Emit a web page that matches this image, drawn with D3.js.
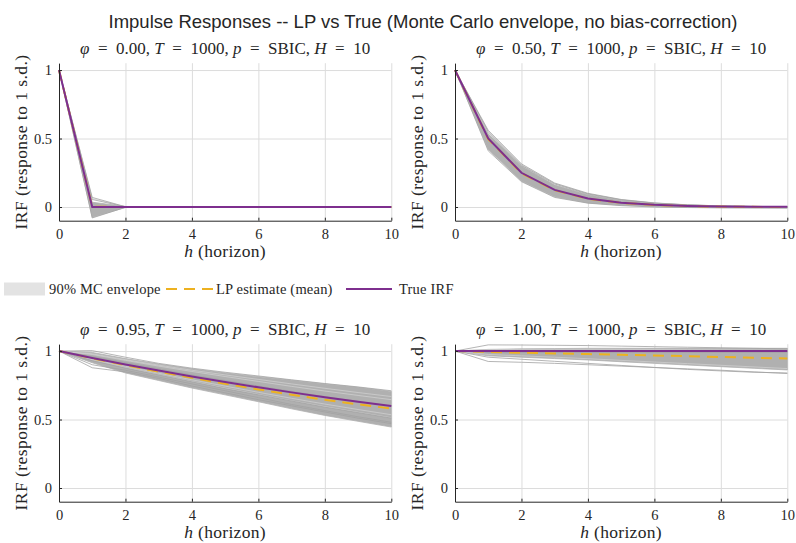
<!DOCTYPE html>
<html>
<head>
<meta charset="utf-8">
<script src="https://cdn.jsdelivr.net/npm/d3@7/dist/d3.min.js"></script>
<style>
  html, body { margin: 0; padding: 0; background: #fff; }
  svg { display: block; }
</style>
</head>
<body>
<svg id="fig" width="796" height="543"></svg>
<script>
// ---- data -------------------------------------------------------------
const horizons = [0, 1, 2, 3, 4, 5, 6, 7, 8, 9, 10];
const xTicks = [0, 2, 4, 6, 8, 10];
const yTicks = [0, 0.5, 1];
const phiLabels = ["0.00", "0.50", "0.95", "1.00"];
const sampleSize = "1000";
const lagRule = "SBIC";
const maxHorizon = "10";

// phi = 0.00
const true00 = [1, 0, 0, 0, 0, 0, 0, 0, 0, 0, 0];
const lp00   = [1, 0.002, 0, 0, 0, 0, 0, 0, 0, 0, 0];
const lo00   = [1, -0.075, -0.004, -0.002, -0.002, -0.002, -0.002, -0.002, -0.002, -0.002, -0.002];
const hi00   = [1, 0.035, 0.004, 0.002, 0.002, 0.002, 0.002, 0.002, 0.002, 0.002, 0.002];
const paths00 = [
  [1, 0.07, 0.002, 0, 0, 0, 0, 0, 0, 0, 0],
  [1, 0.055, 0.001, 0, 0, 0, 0, 0, 0, 0, 0],
  [1, -0.08, -0.002, 0, 0, 0, 0, 0, 0, 0, 0]
];
const light00 = [
  [1, 0.062, 0.002, 0, 0, 0, 0, 0, 0, 0, 0]
];

// phi = 0.50
const true50 = [1, 0.5, 0.25, 0.125, 0.0625, 0.0313, 0.0156, 0.0078, 0.0039, 0.002, 0.001];
const lp50   = [1, 0.496, 0.247, 0.122, 0.06, 0.03, 0.015, 0.007, 0.003, 0.001, 0];
const lo50   = [1, 0.42, 0.19, 0.075, 0.03, 0.013, 0.003, -0.003, -0.005, -0.006, -0.007];
const hi50   = [1, 0.535, 0.3, 0.16, 0.09, 0.048, 0.026, 0.014, 0.007, 0.004, 0.003];
const paths50 = [
  [1, 0.56, 0.315, 0.175, 0.1, 0.055, 0.03, 0.016, 0.008, 0.004, 0.002],
  [1, 0.55, 0.305, 0.168, 0.095, 0.052, 0.028, 0.015, 0.008, 0.004, 0.002],
  [1, 0.41, 0.185, 0.07, 0.028, 0.01, 0.0, -0.004, -0.006, -0.007, -0.008]
];
const light50 = [
  [1, 0.545, 0.31, 0.171, 0.097, 0.053, 0.029, 0.015, 0.008, 0.004, 0.002]
];

// phi = 0.95
const true95 = [1, 0.95, 0.9025, 0.8574, 0.8145, 0.7738, 0.7351, 0.6983, 0.6634, 0.6302, 0.5987];
const lp95   = [1, 0.947, 0.897, 0.849, 0.804, 0.761, 0.72, 0.681, 0.644, 0.611, 0.58];
const lo95   = [1, 0.915, 0.84, 0.785, 0.73, 0.68, 0.63, 0.578, 0.53, 0.487, 0.445];
const hi95   = [1, 0.99, 0.945, 0.905, 0.87, 0.84, 0.813, 0.787, 0.76, 0.735, 0.705];
const paths95 = [
  [1, 0.878, 0.848, 0.8, 0.745, 0.695, 0.645, 0.6, 0.555, 0.51, 0.47],
  [1, 0.9, 0.86, 0.81, 0.76, 0.71, 0.66, 0.61, 0.565, 0.52, 0.48],
  [1, 1.003, 0.955, 0.91, 0.875, 0.845, 0.818, 0.79, 0.763, 0.738, 0.71],
  [1, 0.96, 0.915, 0.87, 0.825, 0.785, 0.745, 0.705, 0.668, 0.632, 0.597],
  [1, 0.93, 0.875, 0.825, 0.775, 0.725, 0.68, 0.635, 0.59, 0.55, 0.51]
];
const light95 = [
  [1, 0.98, 0.937, 0.897, 0.86, 0.826, 0.793, 0.76, 0.728, 0.697, 0.668],
  [1, 0.975, 0.932, 0.89, 0.851, 0.814, 0.778, 0.742, 0.708, 0.676, 0.645],
  [1, 0.94, 0.889, 0.838, 0.79, 0.744, 0.699, 0.655, 0.613, 0.573, 0.535],
  [1, 0.935, 0.88, 0.828, 0.778, 0.729, 0.683, 0.637, 0.594, 0.553, 0.513]
];

// phi = 1.00
const true100 = [1, 1, 1, 1, 1, 1, 1, 1, 1, 1, 1];
const lp100   = [1, 0.994, 0.988, 0.983, 0.978, 0.973, 0.968, 0.962, 0.957, 0.951, 0.946];
const lo100   = [1, 0.965, 0.955, 0.945, 0.935, 0.922, 0.91, 0.898, 0.886, 0.874, 0.862];
const hi100   = [1, 1.012, 1.016, 1.018, 1.02, 1.02, 1.02, 1.02, 1.02, 1.02, 1.02];
const paths100 = [
  [1, 1.045, 1.044, 1.042, 1.04, 1.036, 1.032, 1.028, 1.024, 1.02, 1.016],
  [1, 0.924, 0.918, 0.91, 0.9, 0.89, 0.88, 0.87, 0.86, 0.848, 0.836],
  [1, 0.955, 0.94, 0.925, 0.91, 0.895, 0.88, 0.866, 0.855, 0.845, 0.84],
  [1, 0.99, 0.99, 0.99, 0.99, 0.99, 0.99, 0.99, 0.99, 0.99, 0.99]
];
const light100 = [
  [1, 0.975, 0.965, 0.955, 0.944, 0.932, 0.92, 0.908, 0.896, 0.884, 0.872],
  [1, 1.01, 1.012, 1.013, 1.013, 1.012, 1.011, 1.01, 1.009, 1.008, 1.007]
];

const legendLabels = ["90% MC envelope", "LP estimate (mean)", "True IRF"];
const titleText = "Impulse Responses -- LP vs True (Monte Carlo envelope, no bias-correction)";

// ---- styling / layout -------------------------------------------------
const SERIF = "'Liberation Serif', 'Times New Roman', serif";
const SANS = "'Liberation Sans', Arial, sans-serif";
const C = {
  band: "#b0b0b0",
  path: "#a2a2a2",
  light: "#d2d2d2",
  lp: "#EDB120",
  truth: "#7E2F8E",
  grid: "#dcdcdc",
  axis: "#262626",
  text: "#262626",
  legendPatch: "#e3e3e3"
};

const panels = [
  { phi: phiLabels[0], truth: true00,  lp: lp00,  lo: lo00,  hi: hi00,  paths: paths00,  light: light00,  left: 59,  top: 63.2 },
  { phi: phiLabels[1], truth: true50,  lp: lp50,  lo: lo50,  hi: hi50,  paths: paths50,  light: light50,  left: 455, top: 63.2 },
  { phi: phiLabels[2], truth: true95,  lp: lp95,  lo: lo95,  hi: hi95,  paths: paths95,  light: light95,  left: 59,  top: 344.2 },
  { phi: phiLabels[3], truth: true100, lp: lp100, lo: lo100, hi: hi100, paths: paths100, light: light100, left: 455, top: 344.2 }
];
const plotW = 332.3, plotH = 157.5;

const svg = d3.select("#fig");

svg.append("text")
  .attr("x", 423).attr("y", 28)
  .attr("text-anchor", "middle")
  .style("font-family", SANS)
  .style("font-size", "18.5px")
  .attr("fill", C.text)
  .text(titleText);

// math-style spacing around relation signs
const EQ = "\u2002=\u2002";

panels.forEach(p => {
  const x = d3.scaleLinear().domain([0, 10]).range([0, plotW]);
  const y = d3.scaleLinear().domain([-0.1, 1.05]).range([plotH, 0]);
  const g = svg.append("g").attr("transform", `translate(${p.left},${p.top})`);

  // grid
  g.append("g").attr("transform", `translate(0,${plotH})`)
    .call(d3.axisBottom(x).tickValues(xTicks).tickSize(-plotH).tickFormat(""))
    .call(a => a.select(".domain").remove())
    .call(a => a.selectAll("line").attr("stroke", C.grid));
  g.append("g")
    .call(d3.axisLeft(y).tickValues(yTicks).tickSize(-plotW).tickFormat(""))
    .call(a => a.select(".domain").remove())
    .call(a => a.selectAll("line").attr("stroke", C.grid));

  const pts = arr => arr.map((v, i) => [horizons[i], v]);
  const line = d3.line().x(d => x(d[0])).y(d => y(d[1]));
  const area = d3.area()
    .x((d, i) => x(horizons[i]))
    .y0(d => y(d[0])).y1(d => y(d[1]));

  // Monte Carlo envelope: dense band plus individual replications
  g.append("path")
    .datum(p.lo.map((v, i) => [v, p.hi[i]]))
    .attr("d", area)
    .attr("fill", C.band)
    .attr("stroke", C.band).attr("stroke-width", 0.8);
  p.light.forEach(path => {
    g.append("path").datum(pts(path)).attr("d", line)
      .attr("fill", "none").attr("stroke", C.light).attr("stroke-width", 0.7);
  });
  p.paths.forEach(path => {
    g.append("path").datum(pts(path)).attr("d", line)
      .attr("fill", "none").attr("stroke", C.path).attr("stroke-width", 0.8);
  });

  // LP mean and true IRF
  g.append("path").datum(pts(p.lp)).attr("d", line)
    .attr("fill", "none").attr("stroke", C.lp).attr("stroke-width", 2)
    .attr("stroke-dasharray", "11,7");
  g.append("path").datum(pts(p.truth)).attr("d", line)
    .attr("fill", "none").attr("stroke", C.truth).attr("stroke-width", 2);

  // axes
  const ax = g.append("g").attr("transform", `translate(0,${plotH})`)
    .call(d3.axisBottom(x).tickValues(xTicks).tickSizeInner(-3).tickSizeOuter(0).tickPadding(8));
  const ay = g.append("g")
    .call(d3.axisLeft(y).tickValues(yTicks).tickSizeInner(-3).tickSizeOuter(0).tickPadding(7)
      .tickFormat(d => d === 0.5 ? "0.5" : String(d)));
  [ax, ay].forEach(a => {
    a.attr("font-family", null).attr("font-size", null);
    a.select(".domain").attr("stroke", C.axis);
    a.selectAll(".tick line").attr("stroke", C.axis);
    a.selectAll("text").attr("fill", C.text)
      .style("font-family", SERIF).style("font-size", "14.5px");
  });

  // panel title
  const t = g.append("text")
    .attr("x", plotW / 2).attr("y", -9)
    .attr("text-anchor", "middle")
    .style("font-family", SERIF).style("font-size", "17px")
    .attr("fill", C.text);
  t.append("tspan").style("font-style", "italic").text("\u03C6");
  t.append("tspan").text(`${EQ}${p.phi}, `);
  t.append("tspan").style("font-style", "italic").text("T");
  t.append("tspan").text(`${EQ}${sampleSize}, `);
  t.append("tspan").style("font-style", "italic").text("p");
  t.append("tspan").text(`${EQ}${lagRule}, `);
  t.append("tspan").style("font-style", "italic").text("H");
  t.append("tspan").text(`${EQ}${maxHorizon}`);

  // axis labels
  const xl = g.append("text")
    .attr("x", plotW / 2).attr("y", plotH + 36)
    .attr("text-anchor", "middle")
    .style("font-family", SERIF).style("font-size", "17.5px")
    .style("letter-spacing", "0.3px").attr("fill", C.text);
  xl.append("tspan").style("font-style", "italic").text("h");
  xl.append("tspan").text(" (horizon)");

  g.append("text")
    .attr("transform", `translate(${-32},${plotH / 2}) rotate(-90)`)
    .attr("text-anchor", "middle")
    .style("font-family", SERIF).style("font-size", "17.5px")
    .style("letter-spacing", "0.45px").attr("fill", C.text)
    .text("IRF (response to 1 s.d.)");
});

// ---- legend -----------------------------------------------------------
const lg = svg.append("g").attr("transform", "translate(0,289)");
const legendText = (xPos, label) => lg.append("text")
  .attr("x", xPos).attr("y", 4.5).attr("fill", C.text)
  .style("font-family", SERIF).style("font-size", "14.5px")
  .style("letter-spacing", "0.2px").text(label);
lg.append("rect").attr("x", 4).attr("y", -6.5).attr("width", 41).attr("height", 13)
  .attr("fill", C.legendPatch);
legendText(49, legendLabels[0]);
lg.append("line").attr("x1", 166).attr("x2", 213).attr("y1", 0).attr("y2", 0)
  .attr("stroke", C.lp).attr("stroke-width", 2).attr("stroke-dasharray", "11,7");
legendText(216, legendLabels[1]);
lg.append("line").attr("x1", 346).attr("x2", 392).attr("y1", 0).attr("y2", 0)
  .attr("stroke", C.truth).attr("stroke-width", 2);
legendText(399, legendLabels[2]);
</script>
</body>
</html>
